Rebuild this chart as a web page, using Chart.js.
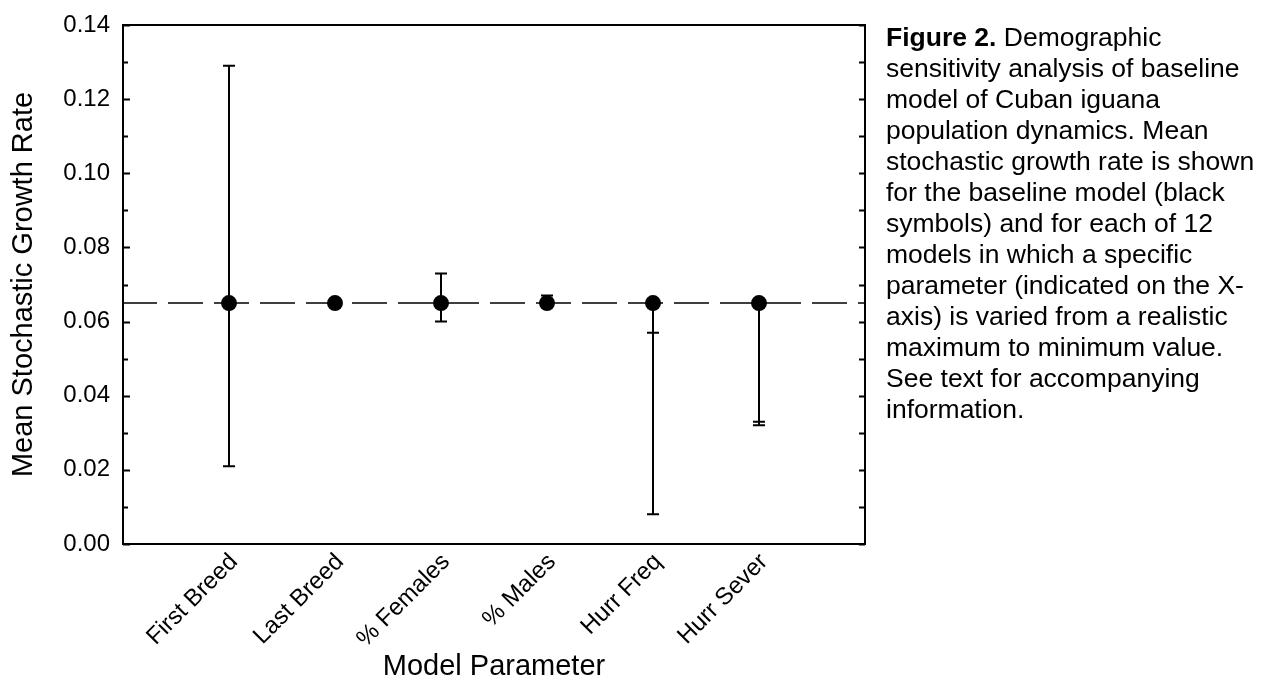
<!DOCTYPE html>
<html>
<head>
<meta charset="utf-8">
<script src="https://cdn.jsdelivr.net/npm/chart.js@4.4.1/dist/chart.umd.min.js"></script>
<style>
  body { margin: 0; background: #fff; }
  #wrap { position: relative; width: 1261px; height: 693px; }
  #caption {
    position: absolute; left: 886px; top: 22px;
    font-family: "Liberation Sans", Arial, sans-serif;
    font-size: 26.5px; line-height: 31px;
    white-space: nowrap; color: #000;
  }
</style>
</head>
<body>
<div id="wrap">
  <canvas id="myChart" width="1261" height="693"></canvas>
  <div id="caption"><b>Figure 2.</b> Demographic<br>sensitivity analysis of baseline<br>model of Cuban iguana<br>population dynamics. Mean<br>stochastic growth rate is shown<br>for the baseline model (black<br>symbols) and for each of 12<br>models in which a specific<br>parameter (indicated on the X-<br>axis) is varied from a realistic<br>maximum to minimum value.<br>See text for accompanying<br>information.</div>
</div>
<script>
// data
const categories = ["First Breed", "Last Breed", "% Females", "% Males", "Hurr Freq", "Hurr Sever"];
const positions = [1, 2, 3, 4, 5, 6];
const meanRate = [0.065, 0.065, 0.065, 0.065, 0.065, 0.065];
const highRate = [0.129, 0.065, 0.073, 0.067, 0.057, 0.033];
const lowRate = [0.021, 0.065, 0.060, 0.065, 0.008, 0.032];
const baselineRate = 0.065;
const yTickLabels = ["0.00", "0.02", "0.04", "0.06", "0.08", "0.10", "0.12", "0.14"];

const fontFam = '"Liberation Sans", Arial, sans-serif';

// error bars, frame and inward ticks
const framePlugin = {
  id: "frame",
  beforeDatasetsDraw(chart) {
    const ctx = chart.ctx;
    const xs = chart.scales.x;
    const ys = chart.scales.y;
    ctx.save();
    ctx.strokeStyle = "#000";
    ctx.lineWidth = 2;
    for (let i = 0; i < positions.length; i++) {
      const px = xs.getPixelForValue(positions[i]);
      const pm = ys.getPixelForValue(meanRate[i]);
      [highRate[i], lowRate[i]].forEach((v) => {
        if (v === meanRate[i]) return;
        const pv = ys.getPixelForValue(v);
        ctx.beginPath();
        ctx.moveTo(px, pm);
        ctx.lineTo(px, pv);
        ctx.moveTo(px - 6, pv);
        ctx.lineTo(px + 6, pv);
        ctx.stroke();
      });
    }
    ctx.restore();
  },
  afterDraw(chart) {
    const ctx = chart.ctx;
    const a = chart.chartArea;
    const ys = chart.scales.y;
    ctx.save();
    ctx.strokeStyle = "#000";
    ctx.lineWidth = 2;
    ctx.strokeRect(a.left, a.top, a.right - a.left, a.bottom - a.top);
    ys.ticks.forEach((t) => {
      const py = Math.round(ys.getPixelForValue(t.value)) + 0.5;
      const major = Math.round(t.value * 100) % 2 === 0;
      ctx.beginPath();
      ctx.moveTo(a.left, py);
      ctx.lineTo(a.left + (major ? 7 : 5), py);
      ctx.moveTo(a.right, py);
      ctx.lineTo(a.right - 6, py);
      ctx.stroke();
    });
    ctx.restore();
  }
};

const ctx = document.getElementById("myChart");
const myChart = new Chart(ctx, {
  type: "scatter",
  data: {
    datasets: [
      {
        label: "Models",
        data: positions.map((p, i) => ({ x: p, y: meanRate[i] })),
        backgroundColor: "#000",
        borderColor: "#000",
        pointRadius: 8,
        pointBorderWidth: 0,
        order: 1,
      },
      {
        label: "Baseline",
        type: "line",
        data: [{ x: 0, y: baselineRate }, { x: 7, y: baselineRate }],
        borderColor: "#000",
        borderWidth: 1.6,
        borderDash: [35, 11],
        borderDashOffset: 1,
        pointRadius: 0,
        fill: false,
        order: 2,
      },
    ],
  },
  options: {
    responsive: false,
    animation: false,
    layout: { padding: { top: 25, right: 396, bottom: 0, left: 0 } },
    plugins: { legend: { display: false }, tooltip: { enabled: false } },
    scales: {
      x: {
        type: "linear",
        min: 0,
        max: 7,
        grid: { display: false },
        border: { display: false },
        afterFit: (s) => { s.height = 149; },
        ticks: {
          stepSize: 1,
          autoSkip: false,
          minRotation: 45,
          maxRotation: 45,
          padding: -4,
          labelOffset: 5,
          color: "#000",
          font: { family: fontFam, size: 24 },
          callback: (v) => categories[v - 1] || "",
        },
        title: {
          display: true,
          text: "Model Parameter",
          color: "#000",
          font: { family: fontFam, size: 29 },
          padding: { top: 9, bottom: 9 },
        },
      },
      y: {
        min: 0,
        max: 0.14,
        grid: { display: false },
        border: { display: false },
        afterFit: (s) => { s.width = 123; },
        ticks: {
          stepSize: 0.01,
          autoSkip: false,
          padding: 5,
          color: "#000",
          font: { family: fontFam, size: 24 },
          callback: (v) => {
            const n = Math.round(v * 100);
            return n % 2 === 0 ? yTickLabels[n / 2] : "";
          },
        },
        title: {
          display: true,
          text: "Mean Stochastic Growth Rate",
          color: "#000",
          font: { family: fontFam, size: 29 },
          padding: { top: 7, bottom: 0 },
        },
      },
    },
  },
  plugins: [framePlugin],
});
</script>
</body>
</html>
